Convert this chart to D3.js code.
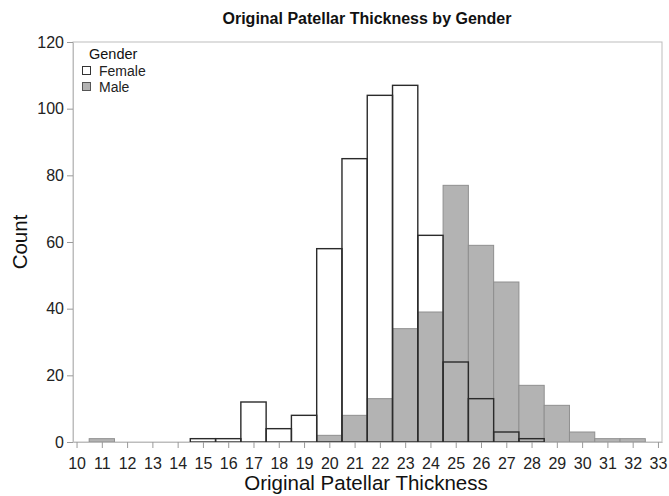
<!DOCTYPE html>
<html>
<head>
<meta charset="utf-8">
<script src="https://cdn.jsdelivr.net/npm/d3@7"></script>
<style>
body { margin: 0; background: #fff; }
svg text { font-family: "Liberation Sans", Arial, sans-serif; }
</style>
</head>
<body>
<svg id="chart" width="669" height="496"></svg>
<script>
// bins are centred on the integer values
var bins = [11, 12, 13, 14, 15, 16, 17, 18, 19, 20, 21, 22, 23, 24, 25, 26, 27, 28, 29, 30, 31, 32]
var female = [0, 0, 0, 0, 1, 1, 12, 4, 8, 58, 85, 104, 107, 62, 24, 13, 3, 1, 0, 0, 0, 0]
var male = [1, 0, 0, 0, 0, 0, 0, 0, 0, 2, 8, 13, 34, 39, 77, 59, 48, 17, 11, 3, 1, 1]
var xticks = d3.range(10, 34)
var yticks = [0, 20, 40, 60, 80, 100, 120]

var svg = d3.select('#chart')
var margin = {top: 42, right: 7, bottom: 54, left: 73}
var w = 669 - margin.left - margin.right
var h = 496 - margin.top - margin.bottom

var g = svg.append('g')
	.attr('transform', 'translate(' + margin.left + ',' + margin.top + ')')

var x = d3.scaleLinear().domain([9.86, 33.16]).range([0, w])
var y = d3.scaleLinear().domain([0, 120]).range([h, 0])

var rows = bins.map(function(b, i) { return {bin: b, f: female[i], m: male[i]} })

// frame
g.append('rect')
	.attr('x', 0).attr('y', 0).attr('width', w).attr('height', h)
	.attr('fill', 'none').attr('stroke', '#bdbdbd')

// female fill
g.append('g').selectAll('rect')
	.data(rows.filter(function(d) { return d.f > 0 }))
	.enter().append('rect')
	.attr('x', function(d) { return x(d.bin - 0.5) })
	.attr('y', function(d) { return y(d.f) })
	.attr('width', x(1) - x(0))
	.attr('height', function(d) { return h - y(d.f) })
	.attr('fill', '#fff')

// male bars
g.append('g').selectAll('rect')
	.data(rows.filter(function(d) { return d.m > 0 }))
	.enter().append('rect')
	.attr('x', function(d) { return x(d.bin - 0.5) })
	.attr('y', function(d) { return y(d.m) })
	.attr('width', x(1) - x(0))
	.attr('height', function(d) { return h - y(d.m) })
	.attr('fill', '#b3b3b3')
	.attr('stroke', '#8f8f8f')
	.attr('stroke-width', 1)

// female outlines on top
g.append('g').selectAll('rect')
	.data(rows.filter(function(d) { return d.f > 0 }))
	.enter().append('rect')
	.attr('x', function(d) { return x(d.bin - 0.5) })
	.attr('y', function(d) { return y(d.f) })
	.attr('width', x(1) - x(0))
	.attr('height', function(d) { return h - y(d.f) })
	.attr('fill', 'none')
	.attr('stroke', '#2b2b2b')
	.attr('stroke-width', 1.4)

// axes
var xAxis = g.append('g')
	.attr('transform', 'translate(0,' + h + ')')
	.call(d3.axisBottom(x).tickValues(xticks).tickFormat(d3.format('d')).tickSize(6).tickSizeOuter(0))
var yAxis = g.append('g')
	.call(d3.axisLeft(y).tickValues(yticks).tickSize(6).tickSizeOuter(0))

svg.selectAll('.domain').attr('stroke', '#bdbdbd')
svg.selectAll('.tick line').attr('stroke', '#9a9a9a')
svg.selectAll('.tick text')
	.attr('fill', '#222')
	.style('font-size', '16px')
xAxis.selectAll('.tick text').attr('dy', '1.12em')

// title and axis labels
svg.append('text')
	.attr('x', 367).attr('y', 24)
	.attr('text-anchor', 'middle')
	.style('font-size', '16px').style('font-weight', 'bold')
	.attr('fill', '#111')
	.text('Original Patellar Thickness by Gender')

svg.append('text')
	.attr('x', 366).attr('y', 490)
	.attr('text-anchor', 'middle')
	.style('font-size', '20.5px')
	.attr('fill', '#111')
	.text('Original Patellar Thickness')

svg.append('text')
	.attr('transform', 'translate(27,' + (margin.top + h / 2) + ') rotate(-90)')
	.attr('text-anchor', 'middle')
	.style('font-size', '20.5px')
	.attr('fill', '#111')
	.text('Count')

// legend
var leg = svg.append('g').attr('transform', 'translate(82,47)')
leg.append('text').attr('x', 7).attr('y', 12)
	.style('font-size', '14.5px').attr('fill', '#111').text('Gender')
var legItems = [{label: 'Female', fill: '#fff', stroke: '#333'}, {label: 'Male', fill: '#b3b3b3', stroke: '#555'}]
leg.selectAll('.item')
	.data(legItems)
	.enter().append('g')
	.attr('class', 'item')
	.attr('transform', function(d, i) { return 'translate(0,' + (19 + i * 16) + ')' })
	.each(function(d) {
		var it = d3.select(this)
		it.append('rect').attr('x', 0.5).attr('y', 0.5).attr('width', 8).attr('height', 8)
			.attr('fill', d.fill).attr('stroke', d.stroke)
		it.append('text').attr('x', 17).attr('y', 9.5)
			.style('font-size', '14px').attr('fill', '#222').text(d.label)
	})
</script>
</body>
</html>
